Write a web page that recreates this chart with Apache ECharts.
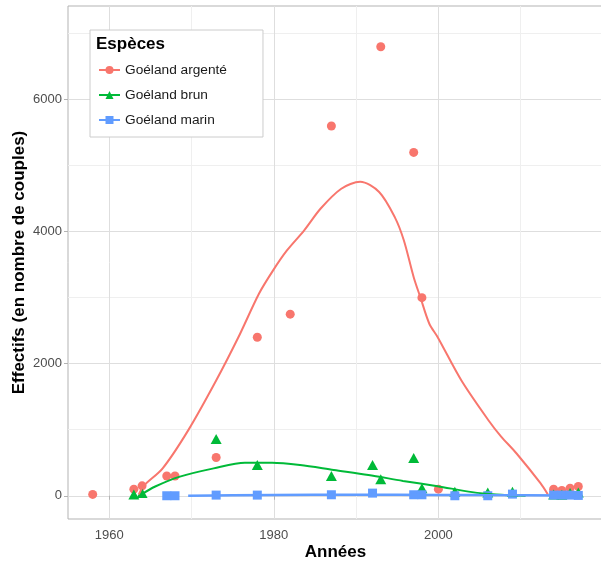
<!DOCTYPE html>
<html>
<head>
<meta charset="utf-8">
<script src="https://cdn.jsdelivr.net/npm/echarts@6/dist/echarts.min.js"></script>
<style>
  html, body { margin: 0; padding: 0; background: #fff; }
  #chart { width: 601px; height: 564px; }
</style>
</head>
<body>
<div id="chart"></div>
<script>
// Espèces (ordre de la légende)
const speciesNames = ['Goéland argenté', 'Goéland brun', 'Goéland marin']
const speciesColors = ['#F8766D', '#00BA38', '#619CFF']

// Comptages (nombre de couples)
const argenteYears = [1958, 1963, 1964, 1967, 1968, 1973, 1978, 1982, 1987, 1993, 1997, 1998, 2000, 2014, 2015, 2016, 2017]
const argenteValues = [20, 100, 150, 300, 300, 580, 2400, 2750, 5600, 6800, 5200, 3000, 100, 100, 80, 115, 140]

const brunYears = [1963, 1964, 1973, 1978, 1987, 1992, 1993, 1997, 1998, 2002, 2006, 2009, 2014, 2015, 2016, 2017]
const brunValues = [20, 40, 860, 465, 300, 465, 250, 570, 115, 60, 50, 60, 20, 15, 40, 50]

const marinYears = [1967, 1968, 1973, 1978, 1987, 1992, 1997, 1998, 2002, 2006, 2009, 2014, 2015, 2016, 2017]
const marinValues = [0, 0, 10, 10, 15, 40, 15, 15, 0, 0, 25, 10, 10, 10, 5]

// Courbes lissées (partie visible au-dessus de 0)
const argenteCurveYears = [1963.6, 1964.2, 1966.5, 1969.6, 1973.0, 1975.7, 1978.2, 1979.9, 1981.6, 1983.7, 1985.7, 1988.2, 1990.5, 1992.8, 1994.7, 1995.8, 1997.0, 1997.8, 1998.9, 1999.9, 2002.8, 2006.1, 2007.6, 2009.5, 2012.4, 2013.3]
const argenteCurveValues = [20, 150, 415, 990, 1745, 2400, 3060, 3410, 3715, 4020, 4350, 4650, 4755, 4600, 4220, 3870, 3310, 3010, 2605, 2405, 1745, 1140, 900, 640, 190, 20]

const brunCurveYears = [1963.8, 1965.6, 1968.6, 1972.7, 1976.5, 1979.8, 1983.2, 1987.3, 1991.5, 1995.7, 1999.9, 2004.1, 2007.0, 2010.6]
const brunCurveValues = [10, 140, 290, 415, 500, 500, 465, 390, 315, 225, 145, 55, 20, 0]

const marinCurveYears = [1969.6, 1975, 1985, 1995, 2005, 2017]
const marinCurveValues = [0, 8, 14, 15, 10, 5]

// Graduations
const xMajorTicks = [1960, 1980, 2000]
const xMinorTicks = [1970, 1990, 2010]
const yMajorTicks = [0, 2000, 4000, 6000]
const yMinorTicks = [1000, 3000, 5000, 7000]

const FONT = '"Liberation Sans", Arial, sans-serif'
const pairs = (xs, ys) => xs.map((x, i) => [x, ys[i]])

const pointSets = [
  { years: argenteYears, values: argenteValues, symbol: 'circle', size: 9 },
  { years: brunYears, values: brunValues, symbol: 'triangle', size: [11, 10] },
  { years: marinYears, values: marinValues, symbol: 'rect', size: 9 }
]
const curveSets = [
  { years: argenteCurveYears, values: argenteCurveValues, symbol: 'circle', width: 2 },
  { years: brunCurveYears, values: brunCurveValues, symbol: 'triangle', width: 2 },
  { years: marinCurveYears, values: marinCurveValues, symbol: 'rect', width: 2.5 }
]

function buildOption() {
  const lineSeries = curveSets.map((c, i) => ({
    name: speciesNames[i],
    type: 'line',
    data: pairs(c.years, c.values),
    smooth: 0.3,
    symbol: c.symbol,
    showSymbol: false,
    lineStyle: { color: speciesColors[i], width: c.width },
    itemStyle: { color: speciesColors[i] },
    z: 3
  }))
  const scatterSeries = pointSets.map((p, i) => ({
    name: speciesNames[i],
    type: 'scatter',
    data: pairs(p.years, p.values),
    symbol: p.symbol,
    symbolSize: p.size,
    itemStyle: { color: speciesColors[i], opacity: 1 },
    z: 2
  }))

  // axes secondaires : seulement les lignes de grille mineures
  const gridAxis = (ticks, color) => ({
    axisLine: { show: false },
    axisTick: { show: false, customValues: ticks },
    axisLabel: { show: false },
    splitLine: { show: true, lineStyle: { color: color, width: 1 } }
  })

  return {
    animation: false,
    textStyle: { fontFamily: FONT },
    title: {
      text: 'Espèces',
      left: 96,
      top: 35,
      padding: 0,
      z: 10,
      textStyle: { fontFamily: FONT, fontSize: 17, fontWeight: 'bold', color: '#000', lineHeight: 18 }
    },
    legend: {
      data: speciesNames,
      orient: 'vertical',
      left: 90,
      top: 30,
      padding: [32, 36, 9, 8],
      itemGap: 9,
      itemWidth: 21,
      itemHeight: 10,
      backgroundColor: '#fff',
      borderColor: '#cccccc',
      borderWidth: 1,
      textStyle: { fontFamily: FONT, fontSize: 13.7, color: '#1a1a1a', lineHeight: 16 }
    },
    grid: {
      left: 68,
      top: 6,
      right: -2,
      bottom: 45,
      outerBoundsMode: 'none',
      containLabel: false,
      show: true,
      borderColor: '#b3b3b3',
      borderWidth: 1,
      backgroundColor: 'transparent'
    },
    xAxis: [
      {
        type: 'value',
        min: 1955,
        max: 2020,
        name: 'Années',
        nameLocation: 'middle',
        nameGap: 25,
        nameMoveOverlap: false,
        nameTextStyle: { fontFamily: FONT, fontSize: 17, fontWeight: 'bold', color: '#000' },
        axisLine: { show: false },
        axisTick: { show: true, customValues: xMajorTicks, length: 4, lineStyle: { color: '#b3b3b3' } },
        axisLabel: { customValues: xMajorTicks, formatter: (v) => String(v), color: '#4d4d4d', fontSize: 13, margin: 10, fontFamily: FONT },
        splitLine: { show: true, lineStyle: { color: '#dedede', width: 1 } }
      },
      Object.assign({ type: 'value', min: 1955, max: 2020, position: 'bottom' }, gridAxis(xMinorTicks, '#efefef'))
    ],
    yAxis: [
      {
        type: 'value',
        min: -352,
        max: 7417,
        name: 'Effectifs (en nombre de couples)',
        nameLocation: 'middle',
        nameRotate: 90,
        nameGap: 40,
        nameMoveOverlap: false,
        nameTextStyle: { fontFamily: FONT, fontSize: 17, fontWeight: 'bold', color: '#000' },
        axisLine: { show: false },
        axisTick: { show: true, customValues: yMajorTicks, length: 4, lineStyle: { color: '#b3b3b3' } },
        axisLabel: { customValues: yMajorTicks, formatter: (v) => String(v), color: '#4d4d4d', fontSize: 13, margin: 6, fontFamily: FONT },
        splitLine: { show: true, lineStyle: { color: '#dedede', width: 1 } }
      },
      Object.assign({ type: 'value', min: -352, max: 7417, position: 'left' }, gridAxis(yMinorTicks, '#efefef'))
    ],
    series: lineSeries.concat(scatterSeries)
  }
}

const chart = echarts.init(document.getElementById('chart'), null, { renderer: 'canvas' })
chart.setOption(buildOption())
</script>
</body>
</html>
